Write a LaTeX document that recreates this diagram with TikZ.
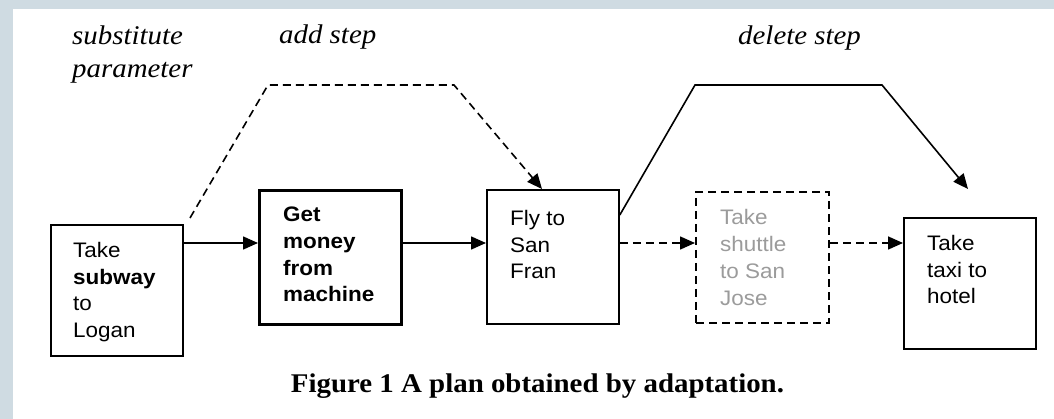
\documentclass[tikz,border=0pt]{standalone}
\usepackage{fontspec}
\usetikzlibrary{arrows.meta,calc}
\newfontfamily\boxfont[FakeStretch=1.07]{Liberation Sans}
\newfontfamily\capfont[FakeStretch=1.07]{Liberation Serif}
\definecolor{framecol}{RGB}{207,219,226}
\definecolor{ghost}{RGB}{155,155,155}
\begin{document}
\begin{tikzpicture}[x=1pt,y=-1pt,
  stepbox/.style={draw, line width=1.8pt, inner sep=0pt, anchor=north west},
  boxtext/.style={anchor=north west, inner sep=0pt, align=left, font=\boxfont\fontsize{21}{26.7}\selectfont},
  lbl/.style={inner sep=0pt, font=\capfont\itshape\fontsize{27}{33}\selectfont},
  arr/.style={line width=1.6pt, -{Triangle[length=15pt,width=13pt]}},
  dsh/.style={dash pattern=on 8pt off 5pt}
]
\useasboundingbox (0,0) rectangle (1054,419);
\fill[framecol] (0,0) rectangle (1054,419);
\fill[white] (13,9) rectangle (1054,419);

% boxes
\node[stepbox, minimum width=132pt, minimum height=131pt] (sub) at (50,224) {};
\node[stepbox, line width=3pt, minimum width=142pt, minimum height=134pt] (money) at (258,189) {};
\node[stepbox, minimum width=132pt, minimum height=134pt] (fly) at (486,189) {};
\node[stepbox, line width=2pt, dash pattern=on 8pt off 5pt, minimum width=133pt, minimum height=131pt] (shuttle) at (695,191) {};
\node[stepbox, minimum width=132pt, minimum height=131pt] (taxi) at (903,217) {};

% box texts
\node[boxtext] (subT) at (73,242) {Take\\\textbf{subway}\\to\\Logan};
\node[boxtext, font=\boxfont\bfseries\fontsize{21}{26.7}\selectfont] (moneyT) at (283,207) {Get\\money\\from\\machine};
\node[boxtext] (flyT) at (510,210) {Fly to\\San\\Fran};
\node[boxtext, text=ghost] (shuttleT) at (720,209.5) {Take\\shuttle\\to San\\Jose};
\node[boxtext] (taxiT) at (927,235) {Take\\taxi to\\hotel};

% labels
\node[lbl, anchor=north west, align=left] (subst) at (72,25.5) {substitute\\parameter};
\node[lbl, anchor=base west] (add) at (279,44) {add step};
\node[lbl, anchor=base west] (del) at (738,45) {delete step};
\node[inner sep=0pt, anchor=base, font=\capfont\bfseries\fontsize{27}{33}\selectfont] (cap) at (537.5,392) {Figure 1 A plan obtained by adaptation.};

% connectors
\coordinate (row) at (0,243);
\draw[arr] (sub.east |- row) -- (money.west |- row);
\draw[arr] (money.east |- row) -- (fly.west |- row);
\draw[arr, dsh] (fly.east |- row) -- (shuttle.west |- row);
\draw[arr, dsh] (shuttle.east |- row) -- (taxi.west |- row);

\coordinate (addstart) at (190,218);
\draw[arr, dsh] (addstart) -- (268,85) -- (454,85) -- ($(fly.north west)+(56,0)$);

\coordinate (delend) at (968,189);
\draw[arr] ($(fly.north east)+(0,26)$) -- (695,85) -- (882,85) -- (delend);
\end{tikzpicture}
\end{document}
